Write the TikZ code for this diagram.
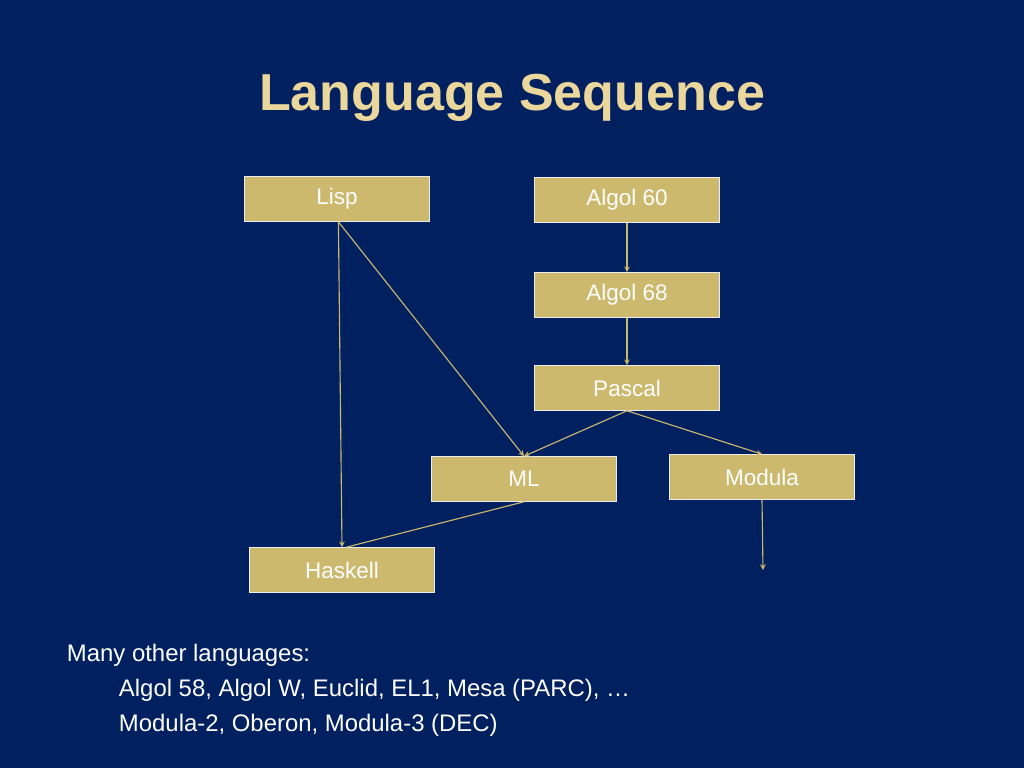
\documentclass[tikz,border=0pt]{standalone}
\usepackage{fontspec}
\setmainfont{Liberation Sans}
\usetikzlibrary{arrows}
\definecolor{navy}{RGB}{0,32,96}
\definecolor{gold}{RGB}{204,185,110}
\definecolor{titlegold}{RGB}{235,215,155}
\tikzstyle{lang} = [rectangle, minimum width=4.625cm, minimum height=1.125cm, inner sep=0pt, text centered, draw=white!85!gray, fill=gold, text=white, font=\fontsize{16}{18}\selectfont]
\tikzstyle{arrow} = [thick, gold, ->, >=stealth]
\tikzstyle{link} = [thick, gold]
\begin{document}
\begin{tikzpicture}[x=0.025cm, y=-0.025cm]
	% Background
	\fill [navy] (0,0) rectangle (1024,768);
	\node (title) at (512,98) [text=titlegold, font=\bfseries\fontsize{37}{40}\selectfont] {Language Sequence};

	% Define labels
	\node (lisp) at (337,199) [lang] {Lisp};
	\node (algol60) at (627,200) [lang] {Algol 60};
	\node (algol68) at (627,295) [lang] {Algol 68};
	\node (pascal) at (627,388) [lang] {Pascal};
	\node (ml) at (524,479) [lang] {ML};
	\node (modula) at (762,477) [lang] {Modula};
	\node (haskell) at (342,570) [lang] {Haskell};
	\coordinate (next) at (763,570);

	% Draw arrows
	\draw [arrow] (algol60) -- (algol68);
	\draw [arrow] (algol68) -- (pascal);
	\draw [arrow] (pascal.south) -- (ml.north);
	\draw [arrow] (pascal.south) -- (modula.north);
	\draw [arrow] ([xshift=1pt]lisp.south) -- (haskell.north);
	\draw [arrow] ([xshift=1pt]lisp.south) -- (ml.north);
	\draw [link] (ml.south) -- ([xshift=3pt]haskell.north);
	\draw [arrow] (modula.south) -- (next);

	% Notes
	\node (notes) at (62,690) [anchor=west, text=white, align=left, font=\fontsize{17}{25}\selectfont] {Many other languages:\\
	\hspace*{1.3cm}Algol 58, Algol W, Euclid, EL1, Mesa (PARC), \dots\\
	\hspace*{1.3cm}Modula-2, Oberon, Modula-3 (DEC)};
\end{tikzpicture}
\end{document}
